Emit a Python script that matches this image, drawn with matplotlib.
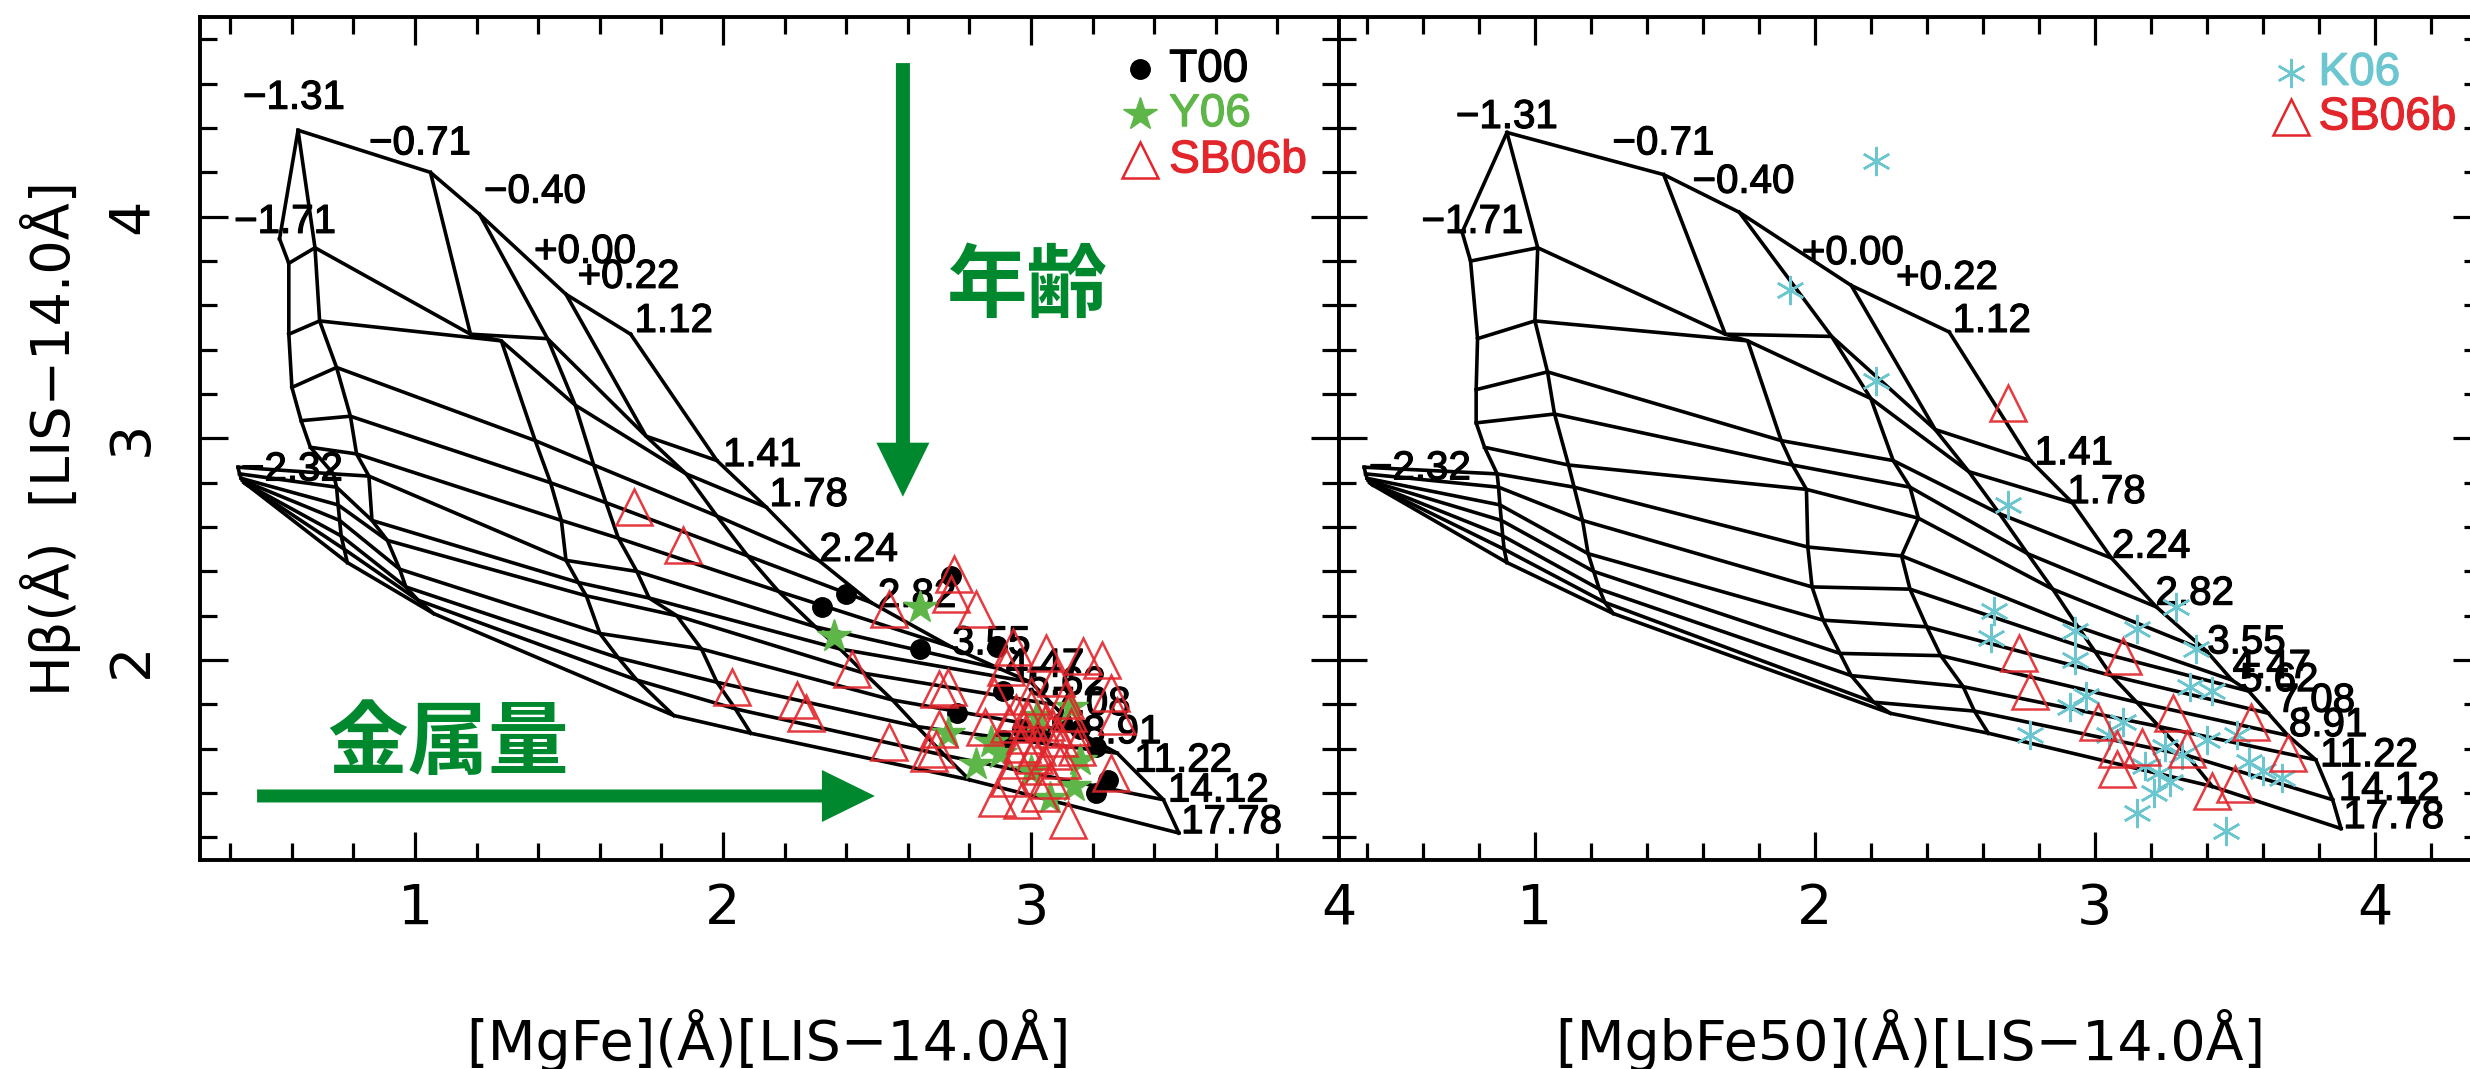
import numpy as np
import matplotlib
matplotlib.use("Agg")
import matplotlib.pyplot as plt
import matplotlib.patheffects as pe
from matplotlib.ticker import MultipleLocator
from matplotlib.patches import FancyArrow

nan = np.nan

# ---------------- data ----------------
ages = ["1.12", "1.41", "1.78", "2.24", "2.82", "3.55", "4.47", "5.62",
        "7.08", "8.91", "11.22", "14.12", "17.78"]
metals = ["\u22122.32", "\u22121.71", "\u22121.31", "\u22120.71", "\u22120.40", "+0.00", "+0.22"]

# model grid, left panel: rows = ages, columns = metallicities
left_gx = [
    [nan, 0.56, 0.62, 1.05, 1.21, 1.49, 1.70],
    [nan, 0.59, 0.675, 1.18, 1.43, 1.75, 1.98],
    [nan, 0.59, 0.69, 1.28, 1.52, 1.88, 2.14],
    [nan, 0.60, 0.745, 1.39, 1.58, 1.98, 2.31],
    [nan, 0.63, 0.79, 1.44, 1.62, 2.08, 2.48],
    [nan, 0.66, 0.81, 1.475, 1.66, 2.18, 2.74],
    [0.425, 0.735, 0.85, 1.49, 1.72, 2.30, 2.90],
    [0.43, 0.745, 0.86, 1.53, 1.76, 2.38, 3.00],
    [0.435, 0.75, 0.91, 1.556, 1.85, 2.46, 3.07],
    [0.44, 0.755, 0.95, 1.60, 1.93, 2.55, 3.16],
    [0.445, 0.76, 0.97, 1.66, 1.98, 2.63, 3.28],
    [0.45, 0.77, 1.01, 1.72, 2.04, 2.72, 3.43],
    [0.455, 0.78, 1.06, 1.84, 2.09, 2.80, 3.48],
]
left_gy = [
    [nan, 3.90, 4.39, 4.20, 4.01, 3.65, 3.47],
    [nan, 3.79, 3.86, 3.47, 3.45, 3.01, 2.90],
    [nan, 3.47, 3.53, 3.44, 3.15, 2.84, 2.69],
    [nan, 3.23, 3.32, 2.99, 2.88, 2.65, 2.45],
    [nan, 3.08, 3.10, 2.80, 2.71, 2.47, 2.26],
    [nan, 2.96, 2.93, 2.63, 2.55, 2.31, 2.06],
    [2.87, 2.84, 2.83, 2.45, 2.40, 2.15, 1.96],
    [2.84, 2.78, 2.63, 2.35, 2.28, 2.05, 1.90],
    [2.82, 2.70, 2.54, 2.29, 2.20, 1.94, 1.80],
    [2.81, 2.63, 2.41, 2.12, 2.05, 1.82, 1.67],
    [2.80, 2.56, 2.33, 2.01, 1.90, 1.70, 1.58],
    [2.795, 2.50, 2.27, 1.91, 1.78, 1.57, 1.37],
    [2.79, 2.44, 2.21, 1.75, 1.67, 1.46, 1.22],
]

# model grid, right panel
right_gx = [
    [nan, 0.74, 0.90, 1.46, 1.73, 2.13, 2.48],
    [nan, 0.77, 1.01, 1.68, 2.06, 2.43, 2.77],
    [nan, 0.795, 1.00, 1.76, 2.20, 2.55, 2.92],
    [nan, 0.79, 1.045, 1.88, 2.28, 2.66, 3.06],
    [nan, 0.79, 1.07, 1.92, 2.34, 2.76, 3.22],
    [nan, 0.82, 1.12, 1.97, 2.37, 2.85, 3.40],
    [0.39, 0.865, 1.14, 1.975, 2.31, 2.94, 3.49],
    [0.395, 0.87, 1.17, 1.99, 2.34, 3.00, 3.55],
    [0.40, 0.875, 1.19, 2.03, 2.40, 3.06, 3.62],
    [0.405, 0.88, 1.21, 2.09, 2.45, 3.15, 3.69],
    [0.41, 0.885, 1.23, 2.13, 2.53, 3.23, 3.79],
    [0.415, 0.89, 1.25, 2.21, 2.57, 3.33, 3.85],
    [0.42, 0.90, 1.28, 2.27, 2.62, 3.42, 3.88],
]
right_gy = [
    [nan, 3.93, 4.38, 4.19, 4.02, 3.69, 3.48],
    [nan, 3.80, 3.86, 3.47, 3.46, 3.04, 2.90],
    [nan, 3.45, 3.53, 3.44, 3.18, 2.85, 2.71],
    [nan, 3.22, 3.30, 2.99, 2.90, 2.66, 2.46],
    [nan, 3.07, 3.11, 2.88, 2.78, 2.48, 2.24],
    [nan, 2.96, 2.88, 2.77, 2.64, 2.32, 2.04],
    [2.87, 2.84, 2.78, 2.51, 2.47, 2.15, 1.91],
    [2.84, 2.78, 2.63, 2.33, 2.32, 2.04, 1.86],
    [2.82, 2.70, 2.48, 2.18, 2.15, 1.93, 1.76],
    [2.81, 2.63, 2.40, 2.03, 2.02, 1.81, 1.66],
    [2.80, 2.56, 2.32, 1.93, 1.88, 1.70, 1.55],
    [2.795, 2.50, 2.26, 1.81, 1.77, 1.57, 1.37],
    [2.79, 2.44, 2.21, 1.76, 1.67, 1.43, 1.24],
]

# observations, left panel
t00_x = [2.40, 2.32, 2.64, 2.74, 2.89, 2.76, 2.91, 3.16, 3.21, 3.25, 3.21, 2.97, 2.91, 3.03, 3.10]
t00_y = [2.30, 2.24, 2.05, 2.38, 2.06, 1.76, 1.86, 1.69, 1.61, 1.46, 1.40, 1.69, 1.64, 1.67, 1.72]
y06_x = [2.36, 2.64, 2.73, 3.13, 3.16, 3.14, 3.06, 2.82, 2.87, 3.02, 2.90, 3.00]
y06_y = [2.11, 2.24, 1.67, 1.79, 1.55, 1.43, 1.38, 1.53, 1.63, 1.75, 1.58, 1.50]
sbl_x = [1.71, 1.87, 2.03, 2.24, 2.27, 2.42, 2.54, 2.54, 2.70, 2.69, 2.75, 2.74, 2.82, 2.94, 3.05,
         3.17, 3.23, 3.26, 2.92, 2.73, 2.70, 2.67, 2.89, 2.97, 3.12, 3.26, 3.06, 3.02, 2.95, 2.88,
         3.00, 3.07, 3.28, 3.15, 3.10, 2.95, 3.03, 3.11, 2.85, 3.08, 2.98, 3.04, 2.93, 3.13, 2.99,
         3.00, 3.05, 2.97, 3.09, 3.12, 3.01, 2.93, 3.07]
sbl_y = [2.69, 2.52, 1.88, 1.82, 1.76, 1.96, 2.23, 1.63, 1.87, 1.60, 2.39, 2.30, 2.23, 2.06, 2.03,
         2.02, 2.00, 1.85, 1.97, 1.88, 1.69, 1.58, 1.38, 1.37, 1.28, 1.49, 1.46, 1.61, 1.76, 1.84,
         1.84, 1.69, 1.75, 1.61, 1.55, 1.55, 1.40, 1.82, 1.70, 1.92, 1.66, 1.52, 1.47, 1.70, 1.73,
         1.78, 1.72, 1.62, 1.65, 1.76, 1.57, 1.71, 1.59]

# observations, right panel
k06_x = [2.22, 1.91, 2.22, 2.69, 2.64, 2.63, 2.93, 2.93, 2.97, 2.91, 2.77, 3.15, 3.29, 3.36, 3.34,
         3.42, 3.25, 3.23, 3.21, 3.15, 3.47, 3.55, 3.67, 3.51, 3.10, 3.05, 3.31, 3.40, 3.18, 3.27, 3.60]
k06_y = [4.25, 3.67, 3.26, 2.70, 2.22, 2.10, 2.13, 2.00, 1.84, 1.79, 1.66, 2.14, 2.24, 2.05, 1.88,
         1.86, 1.61, 1.49, 1.40, 1.31, 1.23, 1.54, 1.47, 1.66, 1.72, 1.66, 1.57, 1.64, 1.52, 1.45, 1.50]
sbr_x = [2.69, 2.73, 2.77, 3.01, 3.10, 3.28, 3.17, 3.08, 3.08, 3.33, 3.42, 3.50, 3.56, 3.69]
sbr_y = [3.16, 2.03, 1.86, 1.72, 2.02, 1.76, 1.61, 1.60, 1.51, 1.60, 1.41, 1.44, 1.72, 1.58]

# ---------------- layout (label positions, data coords) ----------------
met_pos_left = [(0.60, 2.86), (0.578, 3.977), (0.607, 4.537), (1.016, 4.331),
                (1.389, 4.113), (1.552, 3.842), (1.693, 3.729)]
age_pos_left = [(1.84, 3.53), (2.127, 2.925), (2.278, 2.745), (2.44, 2.497), (2.63, 2.29),
                (2.871, 2.076), (3.045, 1.975), (3.115, 1.893), (3.196, 1.802),
                (3.296, 1.675), (3.494, 1.547), (3.608, 1.412), (3.651, 1.269)]
met_pos_right = [(0.589, 2.865), (0.777, 3.977), (0.90, 4.45), (1.459, 4.331),
                 (1.745, 4.158), (2.136, 3.836), (2.472, 3.724)]
age_pos_right = [(2.632, 3.53), (2.925, 2.933), (3.042, 2.758), (3.201, 2.512), (3.357, 2.30),
                 (3.542, 2.08), (3.632, 1.97), (3.659, 1.91), (3.79, 1.817),
                 (3.834, 1.707), (3.98, 1.571), (4.052, 1.419), (4.068, 1.292)]

W, H = 2470, 1069
RED = "#e2262c"
GREEN = "#00882e"
STAR = "#5db647"
CYAN = "#6cc6cf"
LAB_FONT = "Liberation Sans"

fig = plt.figure(figsize=(W / 100, H / 100), dpi=100)
axL = fig.add_axes([199.5 / W, 1 - 859.6 / H, (1339 - 199.5) / W, (859.6 - 17.2) / H])
axR = fig.add_axes([1339 / W, 1 - 859.6 / H, (2481 - 1339) / W, (859.6 - 17.2) / H])
axL.set_xlim(0.3, 4.0)
axR.set_xlim(0.3, 4.38)
for ax in (axL, axR):
    ax.set_ylim(1.1, 4.9)
    ax.xaxis.set_major_locator(MultipleLocator(1))
    ax.xaxis.set_minor_locator(MultipleLocator(0.2))
    ax.yaxis.set_major_locator(MultipleLocator(1))
    ax.yaxis.set_minor_locator(MultipleLocator(0.2))
    ax.tick_params(which="both", direction="in", top=True, right=True, width=2.3, color="black")
    ax.tick_params(which="major", length=20)
    ax.tick_params(which="minor", length=12)
    ax.tick_params(axis="x", labelsize=40, pad=16)
    for s in ax.spines.values():
        s.set_linewidth(2.8)
axL.tick_params(axis="y", labelsize=40, pad=29)
for lab in axL.get_yticklabels():
    lab.set_rotation(90)
    lab.set_va("center")
axR.tick_params(axis="y", labelleft=False)

HEAVY = [pe.withStroke(linewidth=0.9, foreground="black")]


def draw_grid(ax, gx, gy, met_pos, age_pos):
    gx = np.array(gx)
    gy = np.array(gy)
    for i in range(gx.shape[0]):
        ax.plot(gx[i], gy[i], color="black", lw=2.6, zorder=2, solid_joinstyle="miter")
    for j in range(gx.shape[1]):
        ax.plot(gx[:, j], gy[:, j], color="black", lw=2.6, zorder=2, solid_joinstyle="miter")
    for txt, (px, py) in zip(metals, met_pos):
        ax.text(px, py, txt, fontsize=29, family=LAB_FONT, ha="center", va="center",
                zorder=3, path_effects=HEAVY)
    for txt, (px, py) in zip(ages, age_pos):
        ax.text(px, py, txt, fontsize=29, family=LAB_FONT, ha="center", va="center",
                zorder=3, path_effects=HEAVY)


draw_grid(axL, left_gx, left_gy, met_pos_left, age_pos_left)
draw_grid(axR, right_gx, right_gy, met_pos_right, age_pos_right)

# observations
axL.plot(t00_x, t00_y, ls="none", marker="o", ms=14, color="black", zorder=4)
axL.plot(y06_x, y06_y, ls="none", marker="*", ms=25, color=STAR, mec=STAR, zorder=5)
axL.plot(sbl_x, sbl_y, ls="none", marker="^", ms=26, mfc="none", mec=RED, mew=1.8, alpha=0.9, zorder=6)
axR.plot(k06_x, k06_y, ls="none", marker=(6, 2, 0), ms=21, color=CYAN, mew=1.8, zorder=4)
axR.plot(sbr_x, sbr_y, ls="none", marker="^", ms=26, mfc="none", mec=RED, mew=1.8, alpha=0.9, zorder=6)


# legends (manual, axes fractions)
def legend_entry(ax, yfrac, xm, xt, text, tcolor, **mk):
    ax.plot([xm], [yfrac], transform=ax.transAxes, ls="none", clip_on=False, zorder=7, **mk)
    ax.text(xt, yfrac, text, transform=ax.transAxes, color=tcolor, fontsize=33,
            family=LAB_FONT, ha="left", va="center", zorder=7,
            path_effects=[pe.withStroke(linewidth=0.9, foreground=tcolor)])


legend_entry(axL, 0.938, 0.825, 0.851, "T00", "black", marker="o", ms=14, color="black")
legend_entry(axL, 0.885, 0.825, 0.851, "Y06", STAR, marker="*", ms=25, color=STAR)
legend_entry(axL, 0.830, 0.825, 0.851, "SB06b", RED, marker="^", ms=26, mfc="none", mec=RED, mew=1.8)
legend_entry(axR, 0.934, 0.8336, 0.8578, "K06", CYAN, marker=(6, 2, 0), ms=21, color=CYAN, mew=1.8)
legend_entry(axR, 0.881, 0.8336, 0.8578, "SB06b", RED, marker="^", ms=26, mfc="none", mec=RED, mew=1.8)

# annotations: arrows and Japanese text
axL.add_patch(FancyArrow(2.584, 4.693, 0, 2.737 - 4.693, width=0.0455, head_width=0.172,
                         head_length=0.2436, length_includes_head=True, color=GREEN, lw=0, zorder=8))
axL.add_patch(FancyArrow(0.487, 1.387, 2.493 - 0.487, 0, width=0.0586, head_width=0.2346,
                         head_length=0.172, length_includes_head=True, color=GREEN, lw=0, zorder=8))
axL.text(2.99, 3.683, "年齢", family=["Noto Sans CJK JP", "DejaVu Sans"], fontweight="bold",
         fontsize=58, color=GREEN, ha="center", va="center", zorder=8)
axL.text(1.107, 1.62, "金属量", family=["Noto Sans CJK JP", "DejaVu Sans"], fontweight="bold",
         fontsize=58, color=GREEN, ha="center", va="center", zorder=8)

# axis titles
fig.text(51 / W, 1 - 439 / H, "H\u03b2(\u00c5)  [LIS\u221214.0\u00c5]", rotation=90,
         ha="center", va="center", fontsize=39, family="DejaVu Sans")
fig.text(768 / W, 1 - 1040 / H, "[MgFe](\u00c5)[LIS\u221214.0\u00c5]",
         ha="center", va="center", fontsize=40, family="DejaVu Sans")
fig.text(1910 / W, 1 - 1040 / H, "[MgbFe50](\u00c5)[LIS\u221214.0\u00c5]",
         ha="center", va="center", fontsize=40, family="DejaVu Sans")

fig.savefig("out.png", dpi=100)
